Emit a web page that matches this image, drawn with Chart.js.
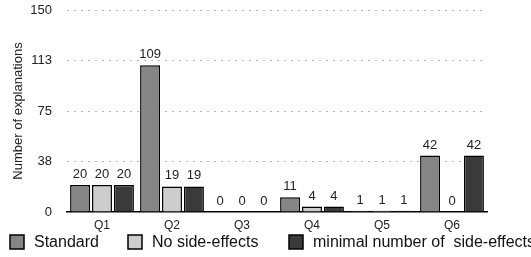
<!DOCTYPE html>
<html>
<head>
<meta charset="utf-8">
<script src="https://cdn.jsdelivr.net/npm/chart.js@4"></script>
<style>
html,body{margin:0;padding:0;background:#fff;overflow:hidden;}
#wrap{width:531px;height:257px;position:relative;}
</style>
</head>
<body>
<div id="wrap"><canvas id="c" width="531" height="257"></canvas></div>
<script>
const categories = ["Q1","Q2","Q3","Q4","Q5","Q6"];
const standard = [20,109,0,11,1,42];
const noSideEffects = [20,19,0,4,1,0];
const minimalSideEffects = [20,19,0,4,1,42];
const seriesNames = ["Standard","No side-effects","minimal number of  side-effects"];
const seriesColors = ["#858585","#cdcdcd","#3a3a3a"];
const yTickMax = 150;
const yTickStep = 37.5;

const FONT = "'Liberation Sans', Arial, Helvetica, sans-serif";

const valueLabels = {
  id: 'valueLabels',
  afterDatasetsDraw(chart) {
    const ctx = chart.ctx;
    ctx.save();
    ctx.font = "13px " + FONT;
    ctx.fillStyle = "#222";
    ctx.textAlign = "center";
    ctx.textBaseline = "bottom";
    chart.data.datasets.forEach((ds, i) => {
      const meta = chart.getDatasetMeta(i);
      meta.data.forEach((el, j) => {
        ctx.fillText(String(ds.data[j]), el.x, el.y - 4);
      });
    });
    ctx.restore();
  }
};

const customLegend = {
  id: 'customLegend',
  afterDraw(chart) {
    const ctx = chart.ctx;
    const boxX = [10, 128, 289];
    const y = 235, s = 14;
    ctx.save();
    ctx.font = "16px " + FONT;
    ctx.textBaseline = "middle";
    ctx.textAlign = "left";
    seriesNames.forEach((n, i) => {
      ctx.fillStyle = seriesColors[i];
      ctx.fillRect(boxX[i], y, s, s);
      ctx.lineWidth = 1.5;
      ctx.strokeStyle = "#000";
      ctx.strokeRect(boxX[i], y, s, s);
      ctx.fillStyle = "#111";
      ctx.fillText(n, boxX[i] + 24, y + s / 2 + 0.5);
    });
    ctx.restore();
  }
};

const datasets = [standard, noSideEffects, minimalSideEffects].map((d, i) => ({
  label: seriesNames[i],
  data: d,
  backgroundColor: seriesColors[i],
  borderColor: "#000",
  borderWidth: 1.5,
  categoryPercentage: 0.94,
  barPercentage: 0.91
}));

new Chart(document.getElementById('c'), {
  type: 'bar',
  data: { labels: categories, datasets },
  plugins: [valueLabels, customLegend],
  options: {
    responsive: false,
    animation: false,
    devicePixelRatio: 1,
    layout: { padding: { top: 10, right: 44, bottom: 0, left: 0 } },
    plugins: { legend: { display: false }, tooltip: { enabled: false } },
    scales: {
      x: {
        grid: { display: false, drawTicks: false },
        border: { display: true, color: "#000", width: 1.5 },
        ticks: { font: { family: FONT, size: 12 }, color: "#222", padding: 6 },
        afterFit(scale) { scale.height = 45; scale.paddingLeft = 0; scale.paddingRight = 0; }
      },
      y: {
        min: 0, max: yTickMax,
        border: { display: false, dash: [2, 5] },
        grid: {
          drawTicks: false,
          color: (c) => c.tick && c.tick.value === 0 ? 'rgba(0,0,0,0)' : '#b5b5b5',
          lineWidth: 1
        },
        ticks: {
          stepSize: yTickStep,
          padding: 15,
          font: { family: FONT, size: 13 },
          color: "#222",
          callback: (v) => Math.round(v)
        },
        title: {
          display: true,
          text: "Number of explanations",
          font: { family: FONT, size: 13 },
          color: "#222",
          padding: { top: 11, bottom: 0 }
        },
        afterFit(scale) { scale.width = 67; scale.paddingTop = 0; scale.paddingBottom = 0; }
      }
    }
  }
});
</script>
</body>
</html>
